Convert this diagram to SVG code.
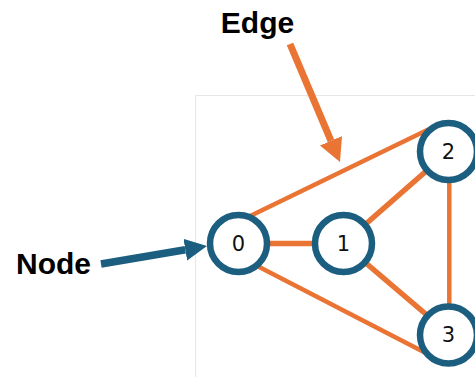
<svg xmlns="http://www.w3.org/2000/svg" width="475" height="377" viewBox="0 0 475 377">
  <style>
    .frame { stroke: #e6e6e6; stroke-width: 1; fill: none; }
    .edge { stroke: #e97434; stroke-width: 4.5; stroke-linecap: butt; }
    .edge-thick { stroke: #e97434; stroke-width: 5.5; }
    .node circle { fill: #ffffff; stroke: #1b5e80; stroke-width: 6.5; }
    .node text { font-family: "DejaVu Sans", sans-serif; font-size: 21px; fill: #111; text-anchor: middle; dominant-baseline: central; }
    .label { font-family: "Liberation Sans", Arial, sans-serif; font-weight: bold; font-size: 30px; fill: #000; text-anchor: middle; }
  </style>
  <defs>
    <marker id="headOrange" markerUnits="userSpaceOnUse" markerWidth="24" markerHeight="26" refX="0" refY="12" orient="auto">
      <path d="M0,0 L23,12 L0,24 z" fill="#e97434"/>
    </marker>
    <marker id="headBlue" markerUnits="userSpaceOnUse" markerWidth="24" markerHeight="24" refX="0" refY="11" orient="auto">
      <path d="M0,0 L22,11 L0,22 z" fill="#1b5e80"/>
    </marker>
  </defs>
  <rect width="475" height="377" fill="#ffffff"/>
  <path class="frame" d="M195.5,377 V95.5 H475"/>

  <g id="connectors">
    <line id="e0-2" class="edge" x1="245" y1="218.4" x2="435" y2="126.2"/>
    <line id="e0-3" class="edge" x1="250" y1="262.3" x2="435" y2="357.7"/>
    <line id="e0-1" class="edge-thick" x1="238" y1="243.5" x2="343" y2="243.5"/>
    <line id="e1-2" class="edge-thick" x1="343.5" y1="243.5" x2="448.5" y2="151.5"/>
    <line id="e1-3" class="edge-thick" x1="343.5" y1="244" x2="448.5" y2="333.5"/>
    <line id="e2-3" class="edge" x1="449.3" y1="152" x2="449.3" y2="335"/>
  </g>

  <g id="node-0" class="node">
    <circle cx="238.5" cy="243.5" r="28.5"/>
    <text x="238.5" y="243.5">0</text>
  </g>
  <g id="node-1" class="node">
    <circle cx="343.5" cy="243.5" r="28.5"/>
    <text x="343.5" y="243.5">1</text>
  </g>
  <g id="node-2" class="node">
    <circle cx="448.5" cy="151.5" r="28.5"/>
    <text x="448.5" y="151.5">2</text>
  </g>
  <g id="node-3" class="node">
    <circle cx="448.5" cy="335" r="28.5"/>
    <text x="448.5" y="335">3</text>
  </g>

  <g id="annotations">
    <text class="label" x="257.5" y="32.5">Edge</text>
    <line x1="290" y1="44" x2="331" y2="140.8" stroke="#e97434" stroke-width="7" marker-end="url(#headOrange)"/>
    <text class="label" x="53.5" y="273.5">Node</text>
    <line x1="101" y1="264" x2="185.3" y2="249.7" stroke="#1b5e80" stroke-width="7.5" marker-end="url(#headBlue)"/>
  </g>
</svg>
